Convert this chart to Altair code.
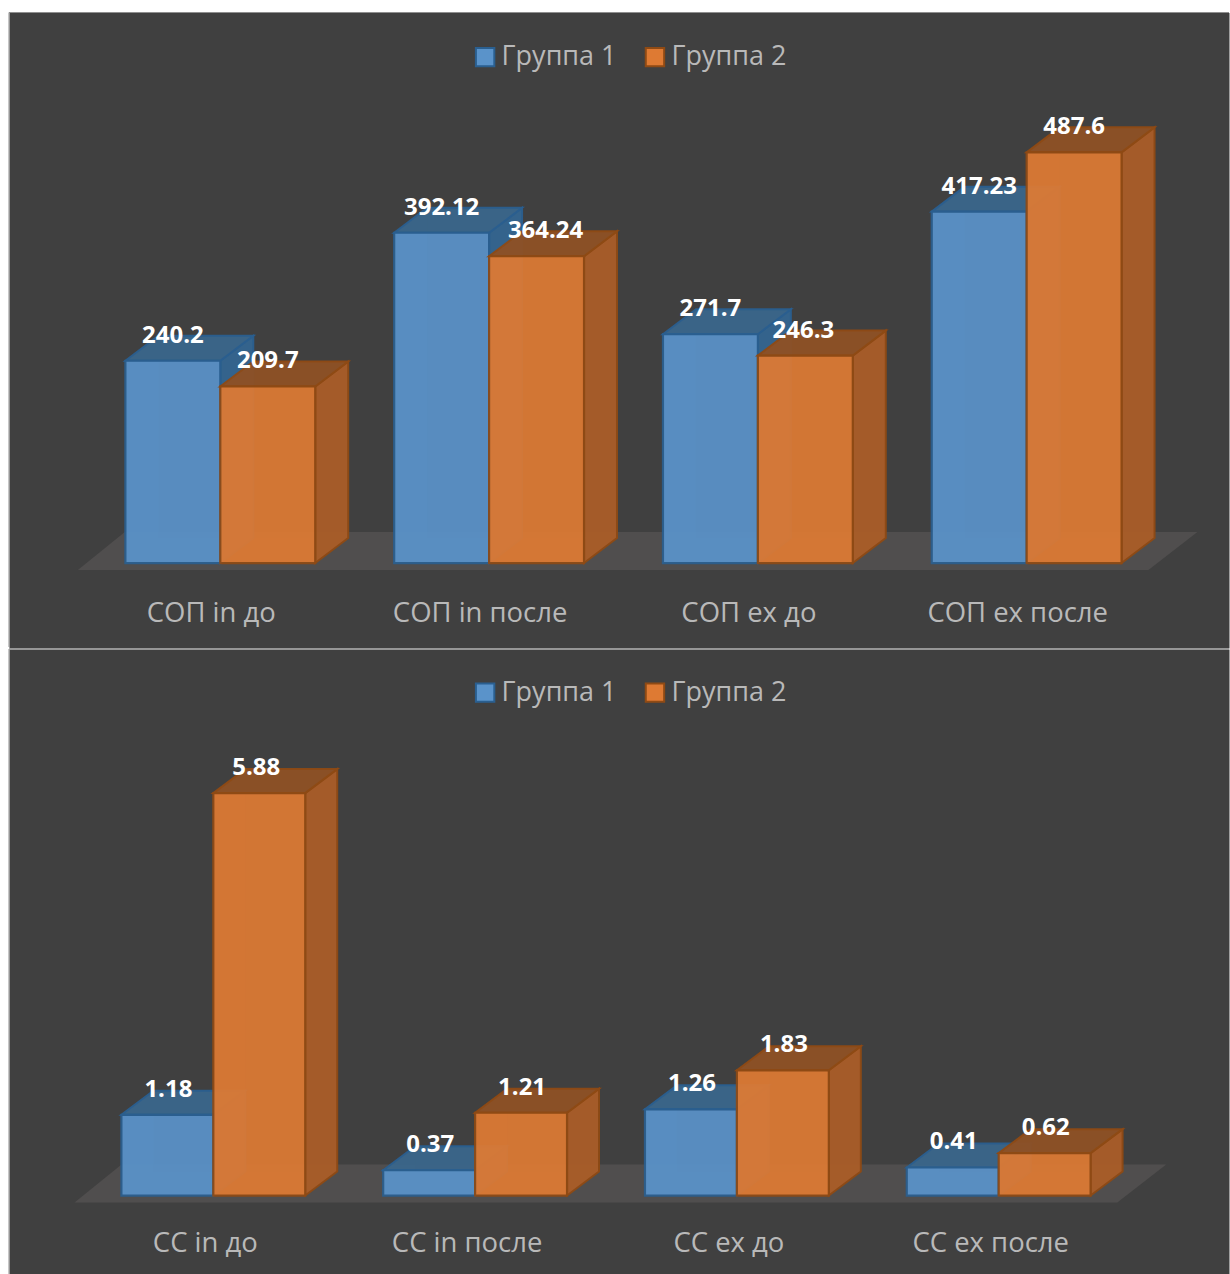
import altair as alt
import pandas as pd

SERIES = ["Группа 1", "Группа 2"]

# Upper panel values
TOP_CATEGORIES = ["СОП in до", "СОП in после", "СОП ex до", "СОП ex после"]
TOP_GROUP_1 = [240.2, 392.12, 271.7, 417.23]
TOP_GROUP_2 = [209.7, 364.24, 246.3, 487.6]

# Lower panel values
BOTTOM_CATEGORIES = ["СС in до", "СС in после", "СС ex до", "СС ex после"]
BOTTOM_GROUP_1 = [1.18, 0.37, 1.26, 0.41]
BOTTOM_GROUP_2 = [5.88, 1.21, 1.83, 0.62]

# Captions that sit off-centre over their bars, horizontal pixels
CAPTION_NUDGE = {364.24: 9, 5.88: -4, 246.3: -2}

BG = "#404040"
FLOOR = "#504e4e"
LINE = "#8f8f8f"
TEXT = "#b9b9b9"
FONT = "Open Sans"

STYLE = {
    "Группа 1": dict(front="#5a93ca", top="#3a6589", side="#33648f", edge="#2a5f90", inner="#5a93c8"),
    "Группа 2": dict(front="#de7a33", top="#8c5025", side="#a85c28", edge="#8f4a14", inner="#de874e"),
}


def prism_faces(values, width, dx, dy):
    """Outline every face of a 3D bar as vertical or horizontal area segments."""
    vertical, horizontal = [], []
    for s, series_values in zip(SERIES, values):
        sign = -1 if s == SERIES[0] else 0
        for i, v in enumerate(series_values):
            x0 = i + sign * width
            x1 = x0 + width
            bar = f"{s}-{i}"
            for face, pts in {
                "front": [(x0, 0, v), (x1, 0, v)],
                "back": [(x0 + dx, dy, v + dy), (x1 + dx, dy, v + dy)],
                "side": [(x1, 0, v), (x1 + dx, dy, v + dy)],
                "left": [(x0, 0, v), (x0 + dx, dy, v + dy)],
            }.items():
                for x, y, y2 in pts:
                    vertical.append(dict(group=s, bar=bar, face=face, x=x, y=y, y2=y2))
            for face, pts in {
                "top": [(v, x0, x1), (v + dy, x0 + dx, x1 + dx)],
                "bottom": [(0, x0, x1), (dy, x0 + dx, x1 + dx)],
            }.items():
                for y, x, x2 in pts:
                    horizontal.append(dict(group=s, bar=bar, face=face, y=y, x=x, x2=x2))
    return pd.DataFrame(vertical), pd.DataFrame(horizontal)


def panel(categories, values, px_per_cat, px_per_unit, x_origin, base_px, panel_top, panel_bottom,
          bar_px, depth_px, depth_py, label_shift, label_y, legend_y, caption_shift, caption_dy):
    panel_h = panel_bottom - panel_top
    panel_w = 1221
    x_dom = [(9 - x_origin) / px_per_cat, (1230 - x_origin) / px_per_cat]
    y_dom = [(base_px - panel_bottom) / px_per_unit, (base_px - panel_top) / px_per_unit]
    xs = alt.Scale(domain=x_dom, nice=False, zero=False)
    ys = alt.Scale(domain=y_dom, nice=False, zero=False)
    X = alt.X("x:Q", scale=xs, axis=None)
    Y = alt.Y("y:Q", scale=ys, axis=None)

    width = bar_px / px_per_cat
    dx = depth_px / px_per_cat
    dy = depth_py / px_per_unit
    vert, horiz = prism_faces(values, width, dx, dy)

    # Floor slab under the bars
    floor = pd.DataFrame([
        dict(y=-7 / px_per_unit, x=-0.53, x2=3.453),
        dict(y=31 / px_per_unit, x=-0.53 + 47 / px_per_cat, x2=3.453 + 49 / px_per_cat),
    ])
    layers = [
        alt.Chart(floor).mark_area(orient="horizontal", fill=FLOOR).encode(
            y=Y, x=X, x2="x2:Q"
        )
    ]

    legend = alt.Legend(
        title=None, orient="none", direction="horizontal", legendX=463, legendY=legend_y,
        symbolType="square", symbolSize=340, symbolStrokeWidth=2, symbolOpacity=1,
        labelFont=FONT, labelFontSize=27, labelColor=TEXT, labelLimit=300,
        labelOffset=3, columnPadding=24, padding=0,
    )
    fill_scale = alt.Scale(domain=SERIES, range=[STYLE[s]["front"] for s in SERIES])
    stroke_scale = alt.Scale(domain=SERIES, range=[STYLE[s]["edge"] for s in SERIES])

    for s in SERIES:
        st = STYLE[s]
        v = vert[vert.group == s]
        h = horiz[horiz.group == s]

        def vface(face, **mark):
            d = v[v.face == face]
            return alt.Chart(d).mark_area(**mark).encode(x=X, y=Y, y2="y2:Q", detail="bar:N")

        def hface(face, **mark):
            d = h[h.face == face]
            return alt.Chart(d).mark_area(orient="horizontal", **mark).encode(
                y=Y, x=X, x2="x2:Q", detail="bar:N"
            )

        layers += [
            vface("back", fill=st["inner"], opacity=0.25),
            vface("left", fill=st["inner"], opacity=0.35),
            hface("bottom", fill=st["inner"], opacity=0.3),
            vface("side", fill=st["side"], stroke=st["edge"], strokeWidth=2, opacity=0.95),
            hface("top", fill=st["top"], stroke=st["edge"], strokeWidth=2, opacity=0.95),
            alt.Chart(v[v.face == "front"]).mark_area(strokeWidth=2.2, opacity=0.9).encode(
                x=X, y=Y, y2="y2:Q", detail="bar:N",
                fill=alt.Fill("group:N", scale=fill_scale, legend=legend),
                stroke=alt.Stroke("group:N", scale=stroke_scale, legend=legend),
            ),
        ]

    # Value captions above each bar's front edge
    captions = pd.DataFrame([
        dict(
            x=i + (-width / 2 if s == SERIES[0] else width / 2)
            + (caption_shift + CAPTION_NUDGE.get(val, 0)) / px_per_cat,
            y=val,
            label=str(val),
        )
        for s, series_values in zip(SERIES, values)
        for i, val in enumerate(series_values)
    ])
    layers.append(
        alt.Chart(captions).mark_text(
            font=FONT, fontSize=24, fontWeight="bold", color="#ffffff", dy=caption_dy, baseline="middle"
        ).encode(x=X, y=Y, text="label:N")
    )

    # Category names under the floor
    names = pd.DataFrame({"x": [i + label_shift / px_per_cat for i in range(len(categories))], "name": categories})
    layers.append(
        alt.Chart(names).mark_text(font=FONT, fontSize=27.5, color=TEXT, baseline="middle").encode(
            x=X, y=alt.value(label_y), text="name:N"
        )
    )

    # Frame lines along the panel's top and left edges
    layers.append(
        alt.Chart(pd.DataFrame({"k": [0]})).mark_rule(color=LINE, strokeWidth=1).encode(
            x=alt.value(0), x2=alt.value(panel_w), y=alt.value(0)
        )
    )
    layers.append(
        alt.Chart(pd.DataFrame({"k": [0]})).mark_rule(color=LINE, strokeWidth=1).encode(
            x=alt.value(0), y=alt.value(0), y2=alt.value(panel_h - 1)
        )
    )
    return alt.layer(*layers).properties(width=panel_w, height=panel_h)


upper = panel(TOP_CATEGORIES, [TOP_GROUP_1, TOP_GROUP_2], 269, 0.843, 220.5, 563, 12, 648,
              95, 33, 25, -9, 602, 31, 0, -25)
lower = panel(BOTTOM_CATEGORIES, [BOTTOM_GROUP_1, BOTTOM_GROUP_2], 262, 68.5, 213.5, 1195, 648, 1275,
              92, 32, 24, -8, 595, 30, 1, -25)

chart = (
    # The panels' half-pixel view bounds would otherwise leave a light row between them
    alt.vconcat(upper, lower, spacing=-1)
    .resolve_scale(fill="independent", stroke="independent")
    .resolve_legend(fill="independent", stroke="independent")
    .properties(padding={"left": 8, "top": 11, "right": 0, "bottom": 0}, background="#ffffff")
    .configure_view(fill=BG, stroke="transparent")
)

chart.save("out.html", embed_options={"renderer": "svg", "actions": False})
